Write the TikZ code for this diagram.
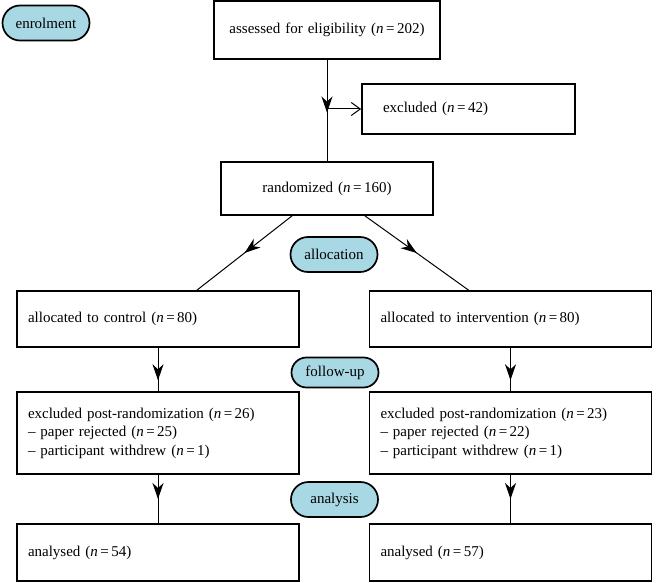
\documentclass[tikz,border=0pt]{standalone}
\usepackage{fontspec}
\setmainfont{Liberation Serif}
\usetikzlibrary{arrows.meta,decorations.markings,shapes.misc}

\definecolor{stageblue}{RGB}{168,216,228}
\newcommand{\nval}[1]{(\textit{n}\,=\,#1)}

\tikzset{
  midarrow/.style={postaction={decorate,decoration={markings,
      mark=at position #1 with {\arrow{Stealth[length=16pt,width=11pt,inset=5pt]}}}}},
  stage/.style={rounded rectangle,draw,line width=1.7pt,fill=stageblue,
    minimum width=87pt,minimum height=35pt,inner sep=0pt},
  flowbox/.style={draw,line width=1.8pt,inner sep=0pt,inner xsep=11pt,
    text width=#1-22pt,align=left},
}

\begin{document}
\begin{tikzpicture}[x=1pt,y=-1pt,font=\fontsize{15}{18.5}\selectfont]
  \useasboundingbox (0,0) rectangle (661,583);

  \begin{scope}[every node/.style={stage}]
    \node (enrol) at (46,23)    {enrolment};
    \node (alloc) at (334,254.5) {allocation};
    \node[minimum height=30pt] (follow) at (335,372.5) {follow-up};
    \node (anal)  at (334.5,499.5) {analysis};
  \end{scope}

  \begin{scope}[every node/.style={flowbox=282pt,minimum height=56pt}]
    \node[text width=226pt-22pt,align=center,minimum height=58pt] (1) at (327,30)
      {assessed for eligibility \nval{202}};
    \node[text width=213pt-42pt,inner xsep=21pt,minimum height=50pt] (2) at (468.5,109)
      {excluded \nval{42}};
    \node[text width=212pt-22pt,align=center,minimum height=53pt] (3) at (327,188.5)
      {randomized \nval{160}};
    \node (4) at (158,319)   {allocated to control \nval{80}};
    \node (5) at (510.5,319) {allocated to intervention \nval{80}};
    \node[minimum height=82pt] (6) at (158,433)
      {excluded post-randomization \nval{26}\\
       -- paper rejected \nval{25}\\
       -- participant withdrew \nval{1}};
    \node[minimum height=82pt] (7) at (510.5,433)
      {excluded post-randomization \nval{23}\\
       -- paper rejected \nval{22}\\
       -- participant withdrew \nval{1}};
    \node[minimum height=57pt] (8) at (158,552.5)   {analysed \nval{54}};
    \node[minimum height=57pt] (9) at (510.5,552.5) {analysed \nval{57}};
  \end{scope}

  \coordinate (b) at (327,109);

  \begin{scope}[every edge/.style={draw,line width=1pt}]
    \path (1) edge[midarrow=0.52] (3);
    \path (b) edge[-{Straight Barb[length=9pt,width=13pt]}] (2);
    \path ([xshift=-35pt]3.south) edge[midarrow=0.5] ([xshift=39pt]4.north);
    \path ([xshift=38pt]3.south)  edge[midarrow=0.5] ([xshift=-42pt]5.north);
    \path (4) edge[midarrow=0.75] (6);
    \path (5) edge[midarrow=0.75] (7);
    \path (6) edge[midarrow=0.5] (8);
    \path (7) edge[midarrow=0.5] (9);
  \end{scope}

\end{tikzpicture}
\end{document}
